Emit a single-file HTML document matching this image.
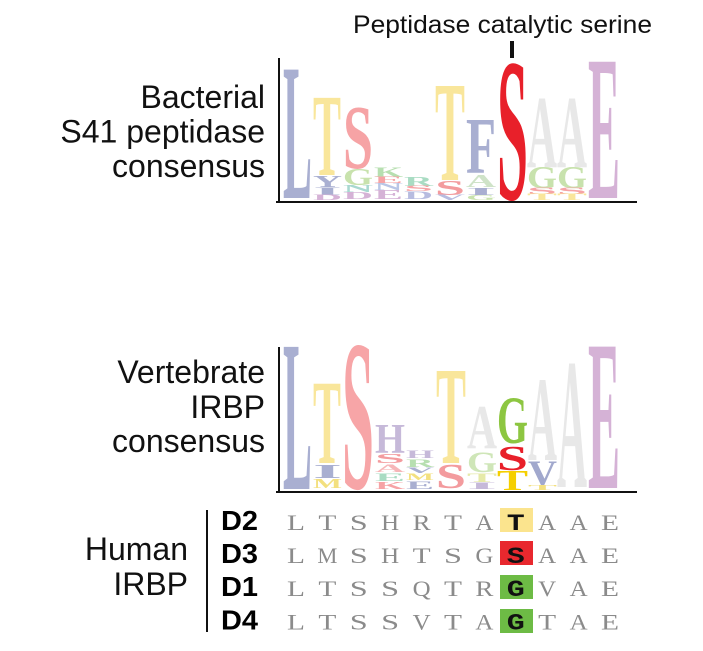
<!DOCTYPE html>
<html><head><meta charset="utf-8"><style>
html,body{margin:0;padding:0;background:#fff;}
body{width:703px;height:651px;overflow:hidden;}
svg{display:block;}
.lbl{font-family:"Liberation Sans",Arial,sans-serif;font-size:32px;fill:#111;}
.lg{font-family:"Liberation Serif","Times New Roman",serif;font-weight:bold;}
.sq{font-family:"Liberation Serif","Times New Roman",serif;font-size:22px;fill:#8b8b8b;}
.sb{font-family:"Liberation Mono","Courier New",monospace;font-size:23px;font-weight:bold;fill:#111;}
.dl{font-family:"Liberation Sans",Arial,sans-serif;font-size:28px;font-weight:bold;fill:#000;}
</style></head><body>
<svg width="703" height="651" viewBox="0 0 703 651" xmlns="http://www.w3.org/2000/svg">
<!-- Title -->
<text x="353" y="33" font-family="Liberation Sans, Arial, sans-serif" font-size="25" fill="#111" textLength="299" lengthAdjust="spacingAndGlyphs">Peptidase catalytic serine</text>
<rect x="510" y="41" width="4" height="17" fill="#111"/>

<!-- Bacterial labels -->
<text class="lbl" x="265" y="108" text-anchor="end">Bacterial</text>
<text class="lbl" x="265" y="142.5" text-anchor="end">S41 peptidase</text>
<text class="lbl" x="265" y="177" text-anchor="end">consensus</text>

<!-- Bacterial logo -->
<g class="lg">
<text x="283" y="198" font-size="196" textLength="29" lengthAdjust="spacingAndGlyphs" fill="#a9afd1">L</text>
<text x="313" y="175" font-size="118" textLength="28" lengthAdjust="spacingAndGlyphs" fill="#f9e69b">T</text>
<text x="313" y="187" font-size="17" textLength="29" lengthAdjust="spacingAndGlyphs" fill="#a9afd1">Y</text>
<text x="313" y="195" font-size="12" textLength="29" lengthAdjust="spacingAndGlyphs" fill="#a9afd1">I</text>
<text x="313" y="200" font-size="8" textLength="29" lengthAdjust="spacingAndGlyphs" fill="#d5b2d6">D</text>
<text x="343" y="168" font-size="91" textLength="30" lengthAdjust="spacingAndGlyphs" fill="#f6a3a5">S</text>
<text x="343" y="185" font-size="24" textLength="30" lengthAdjust="spacingAndGlyphs" fill="#c8e2ad">G</text>
<text x="343" y="192" font-size="11" textLength="30" lengthAdjust="spacingAndGlyphs" fill="#a8d8d0">N</text>
<text x="343" y="199" font-size="11" textLength="30" lengthAdjust="spacingAndGlyphs" fill="#d5b2d6">D</text>
<text x="374" y="177" font-size="15" textLength="29" lengthAdjust="spacingAndGlyphs" fill="#b7dfb0">K</text>
<text x="374" y="183" font-size="9" textLength="29" lengthAdjust="spacingAndGlyphs" fill="#f6a3a5">E</text>
<text x="374" y="190" font-size="11" textLength="29" lengthAdjust="spacingAndGlyphs" fill="#b9c6e6">N</text>
<text x="374" y="199" font-size="14" textLength="29" lengthAdjust="spacingAndGlyphs" fill="#d5b2d6">E</text>
<text x="404" y="186" font-size="14" textLength="29" lengthAdjust="spacingAndGlyphs" fill="#a9dcc3">R</text>
<text x="404" y="191" font-size="8" textLength="29" lengthAdjust="spacingAndGlyphs" fill="#f6a3a5">S</text>
<text x="404" y="199" font-size="12" textLength="29" lengthAdjust="spacingAndGlyphs" fill="#b7bce0">D</text>
<text x="435" y="180" font-size="143.5" textLength="30" lengthAdjust="spacingAndGlyphs" fill="#f9e69b">T</text>
<text x="435" y="195" font-size="21" textLength="30" lengthAdjust="spacingAndGlyphs" fill="#f39b9e">S</text>
<text x="435" y="200" font-size="8" textLength="30" lengthAdjust="spacingAndGlyphs" fill="#b7bce0">V</text>
<text x="466" y="173" font-size="80" textLength="30" lengthAdjust="spacingAndGlyphs" fill="#a9afd1">F</text>
<text x="466" y="187" font-size="18" textLength="30" lengthAdjust="spacingAndGlyphs" fill="#cfe3c8">A</text>
<text x="466" y="195" font-size="11" textLength="30" lengthAdjust="spacingAndGlyphs" fill="#a9afd1">I</text>
<text x="466" y="200" font-size="7" textLength="30" lengthAdjust="spacingAndGlyphs" fill="#c8e2ad">G</text>
<text x="497" y="199" font-size="205" textLength="31" lengthAdjust="spacingAndGlyphs" fill="#e8202a">S</text>
<text x="527" y="167" font-size="104" textLength="30" lengthAdjust="spacingAndGlyphs" fill="#e8e8e8">A</text>
<text x="527" y="188" font-size="32" textLength="30" lengthAdjust="spacingAndGlyphs" fill="#c8e2ad">G</text>
<text x="527" y="194" font-size="9" textLength="30" lengthAdjust="spacingAndGlyphs" fill="#f6a3a5">S</text>
<text x="527" y="200" font-size="9" textLength="30" lengthAdjust="spacingAndGlyphs" fill="#f9e69b">T</text>
<text x="557" y="167" font-size="104" textLength="30" lengthAdjust="spacingAndGlyphs" fill="#e8e8e8">A</text>
<text x="557" y="188" font-size="32" textLength="30" lengthAdjust="spacingAndGlyphs" fill="#c8e2ad">G</text>
<text x="557" y="194" font-size="9" textLength="30" lengthAdjust="spacingAndGlyphs" fill="#f6a3a5">S</text>
<text x="557" y="200" font-size="9" textLength="30" lengthAdjust="spacingAndGlyphs" fill="#f9e69b">T</text>
<text x="588" y="198" font-size="208" textLength="32" lengthAdjust="spacingAndGlyphs" fill="#d5b2d6">E</text>
</g>
<!-- Bacterial axes -->
<rect x="278" y="58" width="2" height="145" fill="#111"/>
<rect x="276" y="201" width="361" height="2" fill="#111"/>

<!-- Vertebrate labels -->
<text class="lbl" x="265" y="383" text-anchor="end">Vertebrate</text>
<text class="lbl" x="265" y="418" text-anchor="end">IRBP</text>
<text class="lbl" x="265" y="452" text-anchor="end">consensus</text>

<!-- Vertebrate logo -->
<g class="lg">
<text x="283" y="489" font-size="217" textLength="29" lengthAdjust="spacingAndGlyphs" fill="#a9afd1">L</text>
<text x="313" y="463" font-size="121" textLength="28" lengthAdjust="spacingAndGlyphs" fill="#f9e69b">T</text>
<text x="313" y="478" font-size="20" textLength="29" lengthAdjust="spacingAndGlyphs" fill="#a9afd1">I</text>
<text x="313" y="488" font-size="14" textLength="29" lengthAdjust="spacingAndGlyphs" fill="#f3e07f">M</text>
<text x="342" y="488" font-size="216" textLength="32" lengthAdjust="spacingAndGlyphs" fill="#f7a5a7">S</text>
<text x="375" y="453" font-size="42" textLength="30" lengthAdjust="spacingAndGlyphs" fill="#c6b9d9">H</text>
<text x="375" y="463" font-size="14" textLength="30" lengthAdjust="spacingAndGlyphs" fill="#f39b9e">S</text>
<text x="375" y="472" font-size="12" textLength="30" lengthAdjust="spacingAndGlyphs" fill="#f6b6b8">A</text>
<text x="375" y="481" font-size="12" textLength="30" lengthAdjust="spacingAndGlyphs" fill="#a9dcc3">E</text>
<text x="375" y="489" font-size="11" textLength="30" lengthAdjust="spacingAndGlyphs" fill="#f6a3a5">K</text>
<text x="406" y="458" font-size="12" textLength="28" lengthAdjust="spacingAndGlyphs" fill="#c6b9d9">H</text>
<text x="406" y="467" font-size="12" textLength="28" lengthAdjust="spacingAndGlyphs" fill="#b7dfb0">R</text>
<text x="406" y="473" font-size="8" textLength="28" lengthAdjust="spacingAndGlyphs" fill="#a9afd1">V</text>
<text x="406" y="480" font-size="9" textLength="28" lengthAdjust="spacingAndGlyphs" fill="#f3e07f">M</text>
<text x="406" y="489" font-size="12" textLength="28" lengthAdjust="spacingAndGlyphs" fill="#a9afd1">E</text>
<text x="436" y="463" font-size="140.5" textLength="30" lengthAdjust="spacingAndGlyphs" fill="#f9e69b">T</text>
<text x="436" y="488" font-size="35" textLength="30" lengthAdjust="spacingAndGlyphs" fill="#f39b9e">S</text>
<text x="467" y="448" font-size="62" textLength="30" lengthAdjust="spacingAndGlyphs" fill="#e8e8e8">A</text>
<text x="467" y="472" font-size="30" textLength="30" lengthAdjust="spacingAndGlyphs" fill="#cfe6b8">G</text>
<text x="467" y="482" font-size="13" textLength="30" lengthAdjust="spacingAndGlyphs" fill="#e6eaa8">T</text>
<text x="467" y="489" font-size="9" textLength="30" lengthAdjust="spacingAndGlyphs" fill="#c6b9d9">I</text>
<text x="497" y="443" font-size="68" textLength="31" lengthAdjust="spacingAndGlyphs" fill="#8dc641">G</text>
<text x="497" y="470" font-size="35" textLength="31" lengthAdjust="spacingAndGlyphs" fill="#e8202a">S</text>
<text x="497" y="490" font-size="29" textLength="31" lengthAdjust="spacingAndGlyphs" fill="#f5cf00">T</text>
<text x="528" y="460" font-size="121" textLength="29" lengthAdjust="spacingAndGlyphs" fill="#e8e8e8">A</text>
<text x="528" y="485" font-size="36" textLength="29" lengthAdjust="spacingAndGlyphs" fill="#a1a8cd">V</text>
<text x="528" y="490" font-size="7" textLength="29" lengthAdjust="spacingAndGlyphs" fill="#f3e07f">T</text>
<text x="557" y="487" font-size="187" textLength="30" lengthAdjust="spacingAndGlyphs" fill="#e8e8e8">A</text>
<text x="588" y="488" font-size="216" textLength="32" lengthAdjust="spacingAndGlyphs" fill="#d5b2d6">E</text>
</g>
<!-- Vertebrate axes -->
<rect x="278" y="347" width="2" height="146" fill="#111"/>
<rect x="276" y="491" width="361" height="2" fill="#111"/>

<!-- Human IRBP -->
<text class="lbl" x="188" y="560" text-anchor="end">Human</text>
<text class="lbl" x="188" y="595" text-anchor="end">IRBP</text>
<rect x="206" y="510" width="2" height="122" fill="#111"/>
<text class="dl" x="221" y="530" textLength="37" lengthAdjust="spacingAndGlyphs">D2</text>
<text class="dl" x="221" y="563" textLength="37" lengthAdjust="spacingAndGlyphs">D3</text>
<text class="dl" x="221" y="596" textLength="37" lengthAdjust="spacingAndGlyphs">D1</text>
<text class="dl" x="221" y="629.5" textLength="37" lengthAdjust="spacingAndGlyphs">D4</text>

<!-- highlight boxes -->
<rect x="500" y="508" width="33" height="24" fill="#fbe48e"/>
<rect x="500" y="541" width="33" height="24" fill="#e8282e"/>
<rect x="500" y="575" width="33" height="24" fill="#6dbb45"/>
<rect x="500" y="609" width="33" height="24" fill="#6dbb45"/>

<!-- D2 -->
<g class="sq">
<text x="287" y="530" textLength="18" lengthAdjust="spacingAndGlyphs">L</text>
<text x="318.4" y="530" textLength="18" lengthAdjust="spacingAndGlyphs">T</text>
<text x="349.8" y="530" textLength="18" lengthAdjust="spacingAndGlyphs">S</text>
<text x="381.2" y="530" textLength="18" lengthAdjust="spacingAndGlyphs">H</text>
<text x="412.6" y="530" textLength="18" lengthAdjust="spacingAndGlyphs">R</text>
<text x="444" y="530" textLength="18" lengthAdjust="spacingAndGlyphs">T</text>
<text x="475.4" y="530" textLength="18" lengthAdjust="spacingAndGlyphs">A</text>
<text x="538.2" y="530" textLength="18" lengthAdjust="spacingAndGlyphs">A</text>
<text x="569.6" y="530" textLength="18" lengthAdjust="spacingAndGlyphs">A</text>
<text x="601" y="530" textLength="18" lengthAdjust="spacingAndGlyphs">E</text>
</g>
<text class="sb" x="506.8" y="530" textLength="18" lengthAdjust="spacingAndGlyphs">T</text>
<!-- D3 -->
<g class="sq">
<text x="287" y="563" textLength="18" lengthAdjust="spacingAndGlyphs">L</text>
<text x="317.4" y="563" textLength="20" lengthAdjust="spacingAndGlyphs">M</text>
<text x="349.8" y="563" textLength="18" lengthAdjust="spacingAndGlyphs">S</text>
<text x="381.2" y="563" textLength="18" lengthAdjust="spacingAndGlyphs">H</text>
<text x="412.6" y="563" textLength="18" lengthAdjust="spacingAndGlyphs">T</text>
<text x="444" y="563" textLength="18" lengthAdjust="spacingAndGlyphs">S</text>
<text x="475.4" y="563" textLength="18" lengthAdjust="spacingAndGlyphs">G</text>
<text x="538.2" y="563" textLength="18" lengthAdjust="spacingAndGlyphs">A</text>
<text x="569.6" y="563" textLength="18" lengthAdjust="spacingAndGlyphs">A</text>
<text x="601" y="563" textLength="18" lengthAdjust="spacingAndGlyphs">E</text>
</g>
<text class="sb" x="506.8" y="563" textLength="18" lengthAdjust="spacingAndGlyphs">S</text>
<!-- D1 -->
<g class="sq">
<text x="287" y="596" textLength="18" lengthAdjust="spacingAndGlyphs">L</text>
<text x="318.4" y="596" textLength="18" lengthAdjust="spacingAndGlyphs">T</text>
<text x="349.8" y="596" textLength="18" lengthAdjust="spacingAndGlyphs">S</text>
<text x="381.2" y="596" textLength="18" lengthAdjust="spacingAndGlyphs">S</text>
<text x="412.6" y="596" textLength="18" lengthAdjust="spacingAndGlyphs">Q</text>
<text x="444" y="596" textLength="18" lengthAdjust="spacingAndGlyphs">T</text>
<text x="475.4" y="596" textLength="18" lengthAdjust="spacingAndGlyphs">R</text>
<text x="538.2" y="596" textLength="18" lengthAdjust="spacingAndGlyphs">V</text>
<text x="569.6" y="596" textLength="18" lengthAdjust="spacingAndGlyphs">A</text>
<text x="601" y="596" textLength="18" lengthAdjust="spacingAndGlyphs">E</text>
</g>
<text class="sb" x="506.8" y="596" textLength="18" lengthAdjust="spacingAndGlyphs">G</text>
<!-- D4 -->
<g class="sq">
<text x="287" y="629.5" textLength="18" lengthAdjust="spacingAndGlyphs">L</text>
<text x="318.4" y="629.5" textLength="18" lengthAdjust="spacingAndGlyphs">T</text>
<text x="349.8" y="629.5" textLength="18" lengthAdjust="spacingAndGlyphs">S</text>
<text x="381.2" y="629.5" textLength="18" lengthAdjust="spacingAndGlyphs">S</text>
<text x="412.6" y="629.5" textLength="18" lengthAdjust="spacingAndGlyphs">V</text>
<text x="444" y="629.5" textLength="18" lengthAdjust="spacingAndGlyphs">T</text>
<text x="475.4" y="629.5" textLength="18" lengthAdjust="spacingAndGlyphs">A</text>
<text x="538.2" y="629.5" textLength="18" lengthAdjust="spacingAndGlyphs">T</text>
<text x="569.6" y="629.5" textLength="18" lengthAdjust="spacingAndGlyphs">A</text>
<text x="601" y="629.5" textLength="18" lengthAdjust="spacingAndGlyphs">E</text>
</g>
<text class="sb" x="506.8" y="629.5" textLength="18" lengthAdjust="spacingAndGlyphs">G</text>
</svg>
</body></html>
